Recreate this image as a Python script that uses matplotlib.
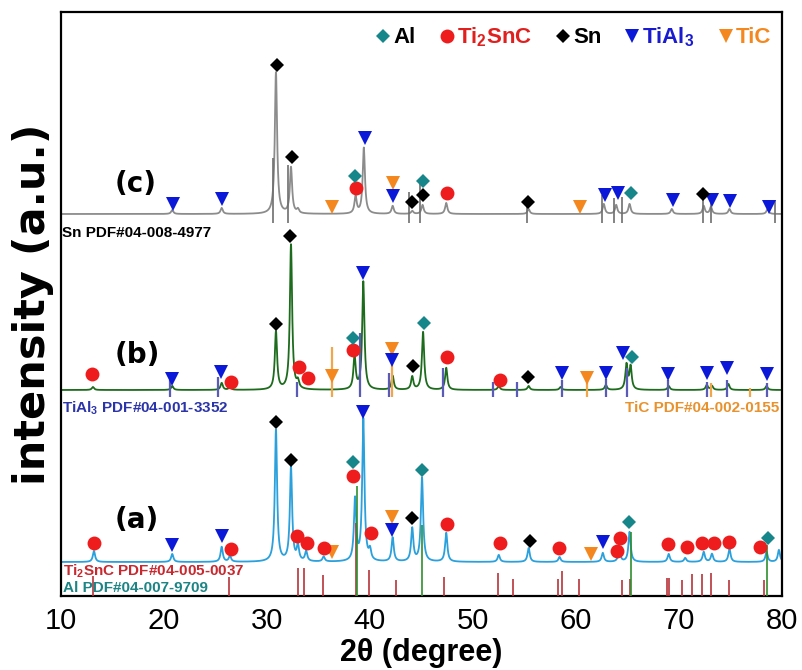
import numpy as np
import matplotlib
matplotlib.use('Agg')
import matplotlib.pyplot as plt
from matplotlib.lines import Line2D

plt.rcParams['font.family'] = ['Liberation Sans', 'DejaVu Sans']
plt.rcParams['mathtext.fontset'] = 'custom'
plt.rcParams['mathtext.rm'] = 'Liberation Sans'
plt.rcParams['mathtext.bf'] = 'Liberation Sans:bold'
plt.rcParams['mathtext.default'] = 'regular'

# ---------------- data ----------------
x_ticks = [10, 20, 30, 40, 50, 60, 70, 80]

# vertical offsets of the three patterns (a.u.)
offset_a, offset_b, offset_c = 34, 206, 382

# measured peaks (2theta, intensity above baseline)
peaks_a_pos = [13.2, 20.8, 25.6, 26.4, 30.87, 32.33, 33.0, 33.8, 35.5, 38.55, 39.35, 40.0,
               42.2, 44.1, 45.05, 47.4, 52.5, 55.4, 58.4, 62.6, 64.2, 65.2, 69.0, 70.6,
               72.4, 73.2, 74.9, 78.5, 79.7]
peaks_a_int = [11, 8, 15, 6, 132, 94, 15, 10, 5, 62, 142, 10,
               24, 33, 84, 29, 7, 14, 5, 9, 12, 30, 8, 4,
               10, 8, 13, 10, 12]

peaks_b_pos = [13.1, 20.8, 25.6, 26.4, 30.87, 32.33, 33.0, 38.5, 39.35, 42.2, 44.1, 45.15,
               47.4, 52.5, 55.4, 58.5, 62.9, 64.9, 65.3, 69.0, 72.7, 73.2, 74.8, 78.5]
peaks_b_int = [3, 4, 7, 3, 58, 145, 7, 33, 108, 14, 13, 58,
               22, 4, 4, 3, 5, 25, 23, 4, 5, 4, 6, 4]

peaks_c_pos = [20.8, 25.6, 30.87, 32.33, 33.0, 38.6, 39.4, 42.2, 44.1, 45.1, 47.4, 55.4,
               62.7, 63.9, 65.2, 69.3, 72.4, 73.1, 74.9, 78.6]
peaks_c_int = [4, 6, 142, 46, 4, 17, 66, 8, 3, 9, 11, 5,
               10, 9, 10, 5, 8, 7, 5, 5]

# phase markers (2theta, height)
al_x = [38.35, 45.05, 65.15, 78.64, 38.35, 45.24, 65.44, 38.54, 45.15, 65.34]
al_y = [134, 126, 74, 58, 258, 273, 239, 420, 415, 403]

ti2snc_x = [13.2, 26.5, 32.91, 33.88, 35.53, 38.35, 40.1, 47.48, 52.62, 58.35, 63.98, 64.27,
            68.93, 70.78, 72.23, 73.4, 74.85, 77.86,
            13.01, 26.5, 33.11, 33.98, 38.35, 47.48, 52.62,
            38.64, 47.48]
ti2snc_y = [53, 47, 60, 53, 48, 120, 63, 72, 53, 48, 45, 58,
            52, 49, 53, 53, 54, 49,
            222, 214, 229, 218, 246, 239, 216,
            408, 403]

sn_x = [30.87, 32.33, 44.08, 55.53, 30.87, 32.23, 44.17, 55.34,
        30.97, 32.43, 44.08, 45.15, 55.34, 72.33]
sn_y = [174, 136, 78, 55, 272, 360, 230, 219,
        531, 439, 394, 401, 394, 402]

tial3_x = [20.78, 25.63, 39.32, 42.14, 62.62,
           20.78, 25.53, 39.32, 42.14, 58.64, 62.91, 64.56, 68.93, 72.72, 74.66, 78.54,
           20.87, 25.63, 39.51, 42.23, 62.82, 64.08, 69.42, 73.2, 74.95, 78.74]
tial3_y = [51, 60, 184, 66, 54,
           217, 224, 323, 236, 223, 223, 243, 222, 223, 228, 222,
           392, 397, 458, 400, 401, 403, 396, 396, 395, 389]

tic_x = [36.31, 42.14, 61.46, 36.31, 42.14, 61.07, 36.31, 42.23, 60.39]
tic_y = [44, 79, 42, 220, 247, 218, 389, 413, 389]

# reference (PDF) lines
ti2snc_ref_pos = [13.1, 26.3, 33.0, 33.6, 35.4, 38.6, 39.9, 42.5, 47.2, 52.4, 53.9, 58.25,
                  58.6, 60.3, 64.5, 65.2, 68.8, 69.0, 70.3, 71.3, 72.2, 73.1, 74.9, 78.3]
ti2snc_ref_int = [20, 19, 28, 28, 21, 73, 26, 16, 19, 23, 17, 17,
                  25, 17, 16, 17, 18, 18, 16, 22, 22, 23, 16, 16]
al_ref_pos = [38.74, 45.05, 65.34, 78.54]
al_ref_int = [110, 71, 64, 51]
tial3_ref_pos = [20.58, 25.24, 32.9, 39.03, 41.84, 47.09, 51.94, 54.27, 58.64, 62.91, 64.95,
                 68.93, 72.72, 74.66, 78.54]
tial3_ref_int = [17, 20, 15, 64, 24, 29, 15, 15, 17, 18, 29, 17, 15, 17, 14]
tic_ref_pos = [36.31, 42.14, 61.07, 73.11, 76.89]
tic_ref_int = [50, 49, 22, 14, 9]
sn_ref_pos = [30.58, 32.04, 43.79, 44.85, 55.24, 62.52, 63.69, 64.47, 72.33, 73.11, 79.32]
sn_ref_int = [65, 58, 31, 40, 23, 28, 25, 26, 28, 26, 23]

# ---------------- styles ----------------
col_a, col_b, col_c = '#2aa0dc', '#1d6b1d', '#8c8c8c'
c_al, c_ti2snc, c_sn, c_tial3, c_tic = '#17868a', '#ee1c1c', 'black', '#0b18d8', '#f4881e'

grid = np.linspace(10, 80, 4001)


def profile(pos, ints, base, w=0.13):
    y = np.full_like(grid, float(base))
    for p, h in zip(pos, ints):
        y += h / (1.0 + ((grid - p) / w) ** 2)
    return y


fig = plt.figure(figsize=(8.02, 6.70), dpi=100)
ax = fig.add_axes([61 / 802, 74 / 670, 721 / 802, 584 / 670])
ax.set_xlim(10, 80)
ax.set_ylim(0, 584)

# reference lines
ref_base_a = 0
ref_base_b = 199
ref_base_c = 373
ax.vlines(ti2snc_ref_pos, ref_base_a, ref_base_a + np.array(ti2snc_ref_int), colors='#b8323a', lw=1.2, zorder=3)
ax.vlines(al_ref_pos, ref_base_a, ref_base_a + np.array(al_ref_int), colors='#2f8f2f', lw=1.2, zorder=3)
ax.vlines(tial3_ref_pos, ref_base_b, ref_base_b + np.array(tial3_ref_int), colors='#5a5ab8', lw=1.6, zorder=3)
ax.vlines(tic_ref_pos, ref_base_b, ref_base_b + np.array(tic_ref_int), colors='#f2a64a', lw=1.6, zorder=3)
ax.vlines(sn_ref_pos, ref_base_c, ref_base_c + np.array(sn_ref_int), colors='#6e6e6e', lw=1.2, zorder=3)

# patterns
ax.plot(grid, profile(peaks_a_pos, peaks_a_int, offset_a), color=col_a, lw=1.3, zorder=2)
ax.plot(grid, profile(peaks_b_pos, peaks_b_int, offset_b), color=col_b, lw=1.3, zorder=2)
ax.plot(grid, profile(peaks_c_pos, peaks_c_int, offset_c), color=col_c, lw=1.3, zorder=2)

# markers
mk = dict(ls='none', zorder=5, markeredgewidth=0)
ax.plot(tic_x, tic_y, marker='v', ms=10, color=c_tic, **mk)
ax.plot(tial3_x, tial3_y, marker='v', ms=10, color=c_tial3, **mk)
ax.plot(ti2snc_x, ti2snc_y, marker='o', ms=10, color=c_ti2snc, **mk)
ax.plot(sn_x, sn_y, marker='D', ms=7.5, color=c_sn, **mk)
ax.plot(al_x, al_y, marker='D', ms=7.5, color=c_al, **mk)

# pattern labels
lab = dict(fontsize=20, fontweight='bold', ha='center', va='center', family=['DejaVu Sans'])
ax.text(17.2, 412, '(c)', **lab)
ax.text(17.4, 241, '(b)', **lab)
ax.text(17.4, 76, '(a)', **lab)

pdf = dict(fontsize=11, fontweight='bold', va='center', zorder=6)
ax.text(10.1, 363, 'Sn PDF#04-008-4977', color='black', ha='left', **pdf)
ax.text(10.1, 188, 'TiAl$_3$ PDF#04-001-3352', color='#2b34a8', ha='left', **pdf)
ax.text(79.7, 188, 'TiC PDF#04-002-0155', color='#e8922e', ha='right', **pdf)
ax.text(10.2, 25, 'Ti$_2$SnC PDF#04-005-0037', color='#c8282e', ha='left', **pdf)
ax.text(10.2, 8, 'Al PDF#04-007-9709', color='#1c8484', ha='left', **pdf)

# legend
handles = [
    Line2D([], [], ls='none', marker='D', ms=7.5, color=c_al, markeredgewidth=0),
    Line2D([], [], ls='none', marker='o', ms=10, color=c_ti2snc, markeredgewidth=0),
    Line2D([], [], ls='none', marker='D', ms=7.5, color=c_sn, markeredgewidth=0),
    Line2D([], [], ls='none', marker='v', ms=10, color=c_tial3, markeredgewidth=0),
    Line2D([], [], ls='none', marker='v', ms=10, color=c_tic, markeredgewidth=0),
]
labels = ['Al', 'Ti$_2$SnC', 'Sn', 'TiAl$_3$', 'TiC']
leg = ax.legend(handles, labels, ncol=5, loc='center right', bbox_to_anchor=(0.985, 0.957),
                frameon=False, prop={'weight': 'bold', 'size': 16}, handlelength=0.7,
                handletextpad=0.1, columnspacing=1.05, borderpad=0, borderaxespad=0)
for t, c in zip(leg.get_texts(), ['black', '#e0201e', 'black', '#1a1ad0', '#f4881e']):
    t.set_color(c)

# axes styling
ax.set_xticks(x_ticks)
ax.set_yticks([])
ax.tick_params(axis='x', length=0, pad=8, labelsize=21)
for s in ax.spines.values():
    s.set_linewidth(1.6)
ax.set_xlabel('2θ (degree)', fontsize=22, fontweight='bold', labelpad=2)
ax.set_ylabel('intensity (a.u.)', fontsize=31, fontweight='bold', labelpad=5,
              family=['DejaVu Sans'])

fig.savefig('out.png', dpi=100)
